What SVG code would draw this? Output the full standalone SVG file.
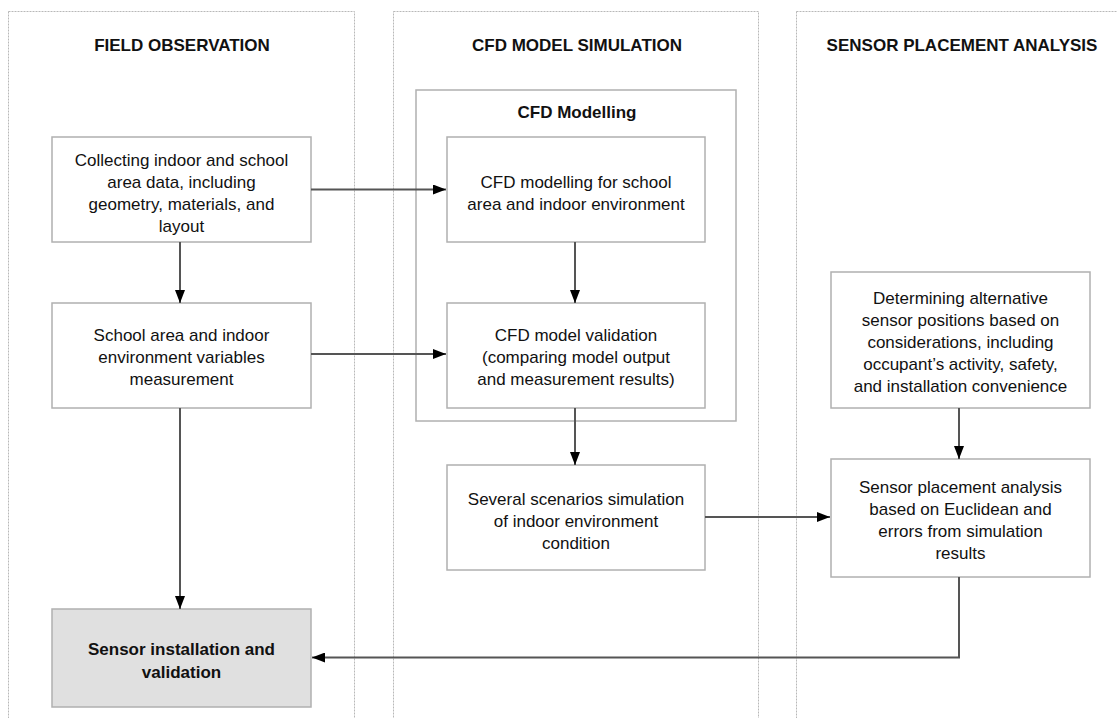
<svg xmlns="http://www.w3.org/2000/svg" width="1117" height="718" viewBox="0 0 1117 718">
<style>
.lane{fill:none;stroke:#b8b8b8;stroke-width:1;stroke-dasharray:2,1}
.box{fill:#fff;stroke:#b0b0b0;stroke-width:1.5}
.grey{fill:#e0e0e0;stroke:#b0b0b0;stroke-width:1.5}
.t{font-family:"Liberation Sans",Arial,Helvetica,sans-serif;font-size:17px;fill:#111;text-anchor:middle}
.b{font-weight:bold}
.c{fill:none;stroke:#555;stroke-width:2}
</style>
<defs>
<marker id="ah" markerWidth="13" markerHeight="10" refX="13" refY="5" orient="auto" markerUnits="userSpaceOnUse">
<path d="M0,0 L13,5 L0,10 z" fill="#000"/>
</marker>
</defs>
<rect width="1117" height="718" fill="#fff"/>
<g id="lane-field">
<rect class="lane" x="8.5" y="11.5" width="346" height="720"/>
<text class="t b" x="182" y="51">FIELD OBSERVATION</text>
</g>
<g id="lane-cfd">
<rect class="lane" x="393.5" y="11.5" width="365" height="720"/>
<text class="t b" x="577" y="51">CFD MODEL SIMULATION</text>
</g>
<g id="lane-sensor">
<rect class="lane" x="796.5" y="11.5" width="340" height="720"/>
<text class="t b" x="962" y="51">SENSOR PLACEMENT ANALYSIS</text>
</g>
<g id="cfd-modelling-group">
<rect class="box" x="416" y="90" width="320" height="331"/>
<text class="t b" x="577" y="118">CFD Modelling</text>
</g>
<g id="collect">
<rect class="box" x="52" y="137" width="259" height="105"/>
<text class="t" x="181.5" y="166">Collecting indoor and school<tspan x="181.5" dy="22">area data, including</tspan><tspan x="181.5" dy="22">geometry, materials, and</tspan><tspan x="181.5" dy="22">layout</tspan></text>
</g>
<g id="measure">
<rect class="box" x="52" y="303" width="259" height="105"/>
<text class="t" x="181.5" y="341">School area and indoor<tspan x="181.5" dy="22">environment variables</tspan><tspan x="181.5" dy="22">measurement</tspan></text>
</g>
<g id="install">
<rect class="grey" x="52" y="609" width="259" height="98"/>
<text class="t b" x="181.5" y="655">Sensor installation and<tspan x="181.5" dy="23">validation</tspan></text>
</g>
<g id="cfd-model">
<rect class="box" x="447" y="137" width="258" height="105"/>
<text class="t" x="576" y="188">CFD modelling for school<tspan x="576" dy="22">area and indoor environment</tspan></text>
</g>
<g id="cfd-valid">
<rect class="box" x="447" y="303" width="258" height="105"/>
<text class="t" x="576" y="341">CFD model validation<tspan x="576" dy="22">(comparing model output</tspan><tspan x="576" dy="22">and measurement results)</tspan></text>
</g>
<g id="scenarios">
<rect class="box" x="447" y="465" width="258" height="105"/>
<text class="t" x="576" y="505">Several scenarios simulation<tspan x="576" dy="22">of indoor environment</tspan><tspan x="576" dy="22">condition</tspan></text>
</g>
<g id="determine">
<rect class="box" x="831" y="272" width="259" height="136"/>
<text class="t" x="960.5" y="304">Determining alternative<tspan x="960.5" dy="22">sensor positions based on</tspan><tspan x="960.5" dy="22">considerations, including</tspan><tspan x="960.5" dy="22">occupant’s activity, safety,</tspan><tspan x="960.5" dy="22">and installation convenience</tspan></text>
</g>
<g id="placement">
<rect class="box" x="831" y="459" width="259" height="118"/>
<text class="t" x="960.5" y="493">Sensor placement analysis<tspan x="960.5" dy="22">based on Euclidean and</tspan><tspan x="960.5" dy="22">errors from simulation</tspan><tspan x="960.5" dy="22">results</tspan></text>
</g>
<g id="connectors">
<path class="c" d="M180,242 V303" marker-end="url(#ah)"/>
<path class="c" d="M180,408 V609" marker-end="url(#ah)"/>
<path class="c" d="M311,189.5 H446" marker-end="url(#ah)"/>
<path class="c" d="M311,354 H446" marker-end="url(#ah)"/>
<path class="c" d="M575,242 V303" marker-end="url(#ah)"/>
<path class="c" d="M575,408 V465" marker-end="url(#ah)"/>
<path class="c" d="M705,517 H830" marker-end="url(#ah)"/>
<path class="c" d="M959,408 V459" marker-end="url(#ah)"/>
<path class="c" d="M959,577 V657.5 H312" marker-end="url(#ah)"/>
</g>
</svg>
